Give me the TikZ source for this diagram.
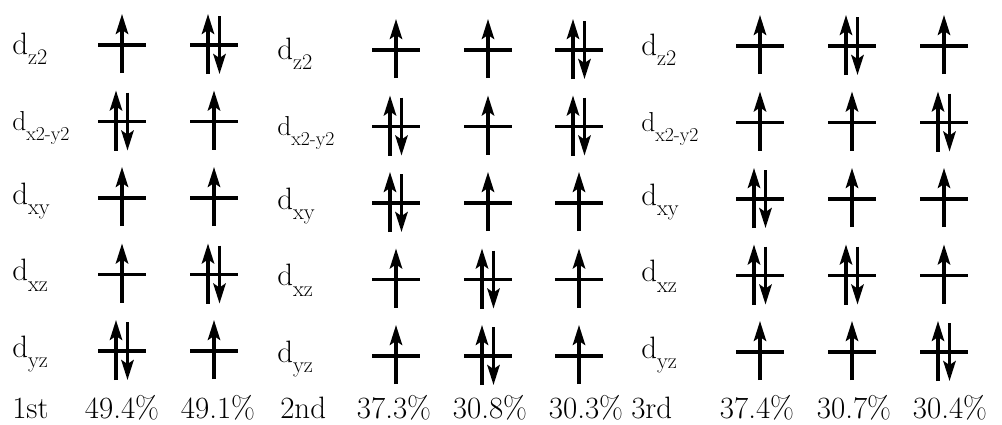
\documentclass[tikz,border=0pt]{standalone}
\usepackage{fontspec}
\setmainfont{Latin Modern Roman}
\usetikzlibrary{arrows.meta}
\newcommand{\dsub}[1]{d\raisebox{-0.35em}{\scalebox{0.72}{#1}}}

\begin{document}
\begin{tikzpicture}[x=0.025cm, y=-0.025cm,
    level/.style={line width=2.4pt},
    spin/.style={line width=2.3pt, -{Stealth[length=5mm, width=3.1mm, inset=1mm]}},
    lab/.style={inner sep=0pt, anchor=base west, font=\fontsize{22}{24}\selectfont},
    labsm/.style={lab, font=\fontsize{19.5}{21}\selectfont},
    pct/.style={inner sep=0pt, anchor=base, font=\fontsize{22}{24}\selectfont}]
  \useasboundingbox (0,0) rectangle (1002,424);
  % orbital labels, three blocks
  \foreach \bx/\dy [count=\b] in {12/0, 277/5, 641/1}
    \foreach \orb/\yo/\sty [count=\r] in {z2/9/lab, x2-y2/9/labsm, xy/6/lab, xz/6/lab, yz/6/lab}
      \node[\sty] (lab\b\r) at (\bx, 45+76.5*\r-76.5+\dy+\yo) {\dsub{\orb}};
  % levels: u = one up spin, p = paired spins
  \foreach \cx/\dy/\spins in {122/0/{u,p,u,u,p}, 214/0/{p,u,u,p,u},
      396/5/{u,p,p,u,u}, 488/5/{u,u,u,p,p}, 579/5/{p,p,u,u,u},
      760/1/{u,u,p,p,u}, 852/1/{p,u,u,p,u}, 944/1/{u,p,u,u,p}}
    \foreach \s [count=\r] in \spins {
      \pgfmathsetmacro\cy{45+76.5*(\r-1)+\dy}
      \draw[level] (\cx-24,\cy) -- (\cx+24,\cy);
      \if\s u
        \draw[spin] (\cx,\cy+28) -- (\cx,\cy-31);
      \else
        \draw[spin] (\cx-6,\cy+29) -- (\cx-6,\cy-31);
        \draw[spin] (\cx+5.5,\cy-29) -- (\cx+5.5,\cy+29);
      \fi
    }
  % bottom row
  \node[lab] (r1) at (12,418) {1st};
  \node[lab] (r2) at (280,418) {2nd};
  \node[lab] (r3) at (631,418) {3rd};
  \node[pct] (p1) at (122,418) {49.4\%};
  \node[pct] (p2) at (218,418) {49.1\%};
  \node[pct] (p3) at (394,418) {37.3\%};
  \node[pct] (p4) at (490,418) {30.8\%};
  \node[pct] (p5) at (586,418) {30.3\%};
  \node[pct] (p6) at (757,418) {37.4\%};
  \node[pct] (p7) at (854,418) {30.7\%};
  \node[pct] (p8) at (950,418) {30.4\%};
\end{tikzpicture}
\end{document}
